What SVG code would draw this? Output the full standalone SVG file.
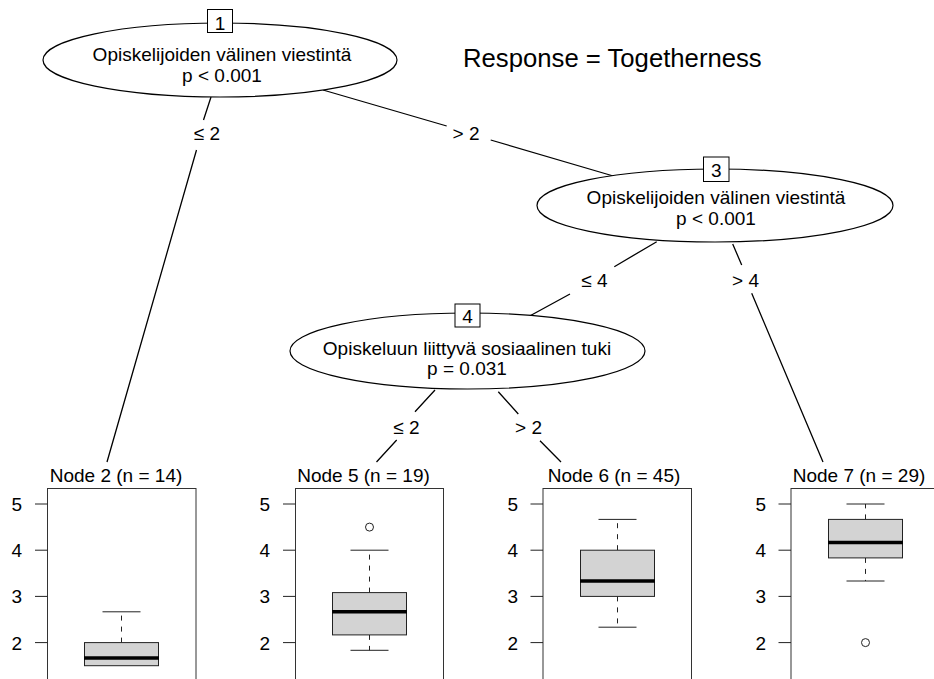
<svg xmlns="http://www.w3.org/2000/svg" width="934" height="679" viewBox="0 0 934 679">
  <style>
    text { font-family: "Liberation Sans", Arial, sans-serif; fill: #000; }
    .lbl { font-size: 19px; text-anchor: middle; }
    .tick { font-size: 19px; text-anchor: end; }
    .title { font-size: 25.7px; }
    .split { fill: #fff; stroke: #000; stroke-width: 1.2; }
    .idbox { fill: #fff; stroke: #000; stroke-width: 1; }
    .edge { fill: none; stroke: #000; stroke-width: 1.3; }
    .panel { fill: #fff; stroke: #333; stroke-width: 1; }
    .axis { stroke: #222; stroke-width: 1; fill: none; }
    .box { fill: #d3d3d3; stroke: #222; stroke-width: 1; }
    .med { stroke: #000; stroke-width: 3.5; }
    .whisk { stroke: #222; stroke-width: 1; stroke-dasharray: 5 6; fill: none; }
    .cap { stroke: #222; stroke-width: 1; }
    .out { fill: none; stroke: #222; stroke-width: 1; }
  </style>

  <!-- background -->
  <rect x="0" y="0" width="934" height="679" fill="#fff"/>

  <text class="title" x="463" y="67">Response = Togetherness</text>

  <!-- edges between nodes, broken around the split labels -->
  <g id="connectors">
    <path class="edge" d="M211,97 L203.5,120 M196.5,150 L107,462"/>
    <path class="edge" d="M323,90 L446.7,126 M490.7,140 L613.3,176"/>
    <path class="edge" d="M656.7,241.7 L614.3,266.7 M570,294 L528.3,316.7"/>
    <path class="edge" d="M732.7,244 L741.7,265 M751.7,293.3 L823,462"/>
    <path class="edge" d="M435,390 L415,411.7 M396.7,440 L376.5,462"/>
    <path class="edge" d="M498.3,391.7 L518.3,414 M540,440.7 L561,462"/>
    <text class="lbl" x="207" y="140">≤ 2</text>
    <text class="lbl" x="466" y="140">&gt; 2</text>
    <text class="lbl" x="594.5" y="287">≤ 4</text>
    <text class="lbl" x="745.5" y="287">&gt; 4</text>
    <text class="lbl" x="406.5" y="434">≤ 2</text>
    <text class="lbl" x="528.5" y="434">&gt; 2</text>
  </g>

  <!-- inner split nodes -->
  <g id="node1">
    <ellipse class="split" cx="220" cy="60" rx="177" ry="37"/>
    <text class="lbl" x="222" y="61">Opiskelijoiden välinen viestintä</text>
    <text class="lbl" x="222" y="82">p &lt; 0.001</text>
    <rect class="idbox" x="207.5" y="9.5" width="25" height="23"/>
    <text class="lbl" x="220" y="30">1</text>
  </g>

  <g id="node3">
    <ellipse class="split" cx="715" cy="205.5" rx="178" ry="36.5"/>
    <text class="lbl" x="716" y="204">Opiskelijoiden välinen viestintä</text>
    <text class="lbl" x="716" y="225">p &lt; 0.001</text>
    <rect class="idbox" x="703.5" y="157" width="25.5" height="24.5"/>
    <text class="lbl" x="716.3" y="177">3</text>
  </g>

  <g id="node4">
    <ellipse class="split" cx="467.5" cy="351" rx="177.5" ry="38"/>
    <text class="lbl" x="467" y="355">Opiskeluun liittyvä sosiaalinen tuki</text>
    <text class="lbl" x="467" y="375">p = 0.031</text>
    <rect class="idbox" x="455" y="304" width="25" height="23"/>
    <text class="lbl" x="467.5" y="323">4</text>
  </g>

  <!-- terminal nodes: boxplots on the scale y = 504 + (5 - v) * 46.2 -->
  <g id="node2">
    <text class="lbl" x="116" y="482">Node 2 (n = 14)</text>
    <rect class="panel" x="47.5" y="488.5" width="148.5" height="200"/>
    <path class="axis" d="M35,504 H47.5 M35,550.2 H47.5 M35,596.4 H47.5 M35,642.6 H47.5"/>
    <text class="tick" x="22" y="511">5</text>
    <text class="tick" x="22" y="557">4</text>
    <text class="tick" x="22" y="603">3</text>
    <text class="tick" x="22" y="649.5">2</text>
    <line class="whisk" x1="121.5" y1="642.6" x2="121.5" y2="611.8"/>
    <line class="cap" x1="102.5" y1="611.8" x2="140.5" y2="611.8"/>
    <rect class="box" x="84.5" y="642.6" width="74" height="23.1"/>
    <line class="med" x1="84" y1="658" x2="159" y2="658"/>
  </g>

  <g id="node5">
    <text class="lbl" x="363.5" y="482">Node 5 (n = 19)</text>
    <rect class="panel" x="295.5" y="488.5" width="148" height="200"/>
    <path class="axis" d="M283,504 H295.5 M283,550.2 H295.5 M283,596.4 H295.5 M283,642.6 H295.5"/>
    <text class="tick" x="270" y="511">5</text>
    <text class="tick" x="270" y="557">4</text>
    <text class="tick" x="270" y="603">3</text>
    <text class="tick" x="270" y="649.5">2</text>
    <line class="whisk" x1="369.5" y1="592.6" x2="369.5" y2="550.2"/>
    <line class="whisk" x1="369.5" y1="634.9" x2="369.5" y2="650.3"/>
    <line class="cap" x1="350.5" y1="550.2" x2="388.5" y2="550.2"/>
    <line class="cap" x1="350.5" y1="650.3" x2="388.5" y2="650.3"/>
    <rect class="box" x="332.5" y="592.6" width="74" height="42.3"/>
    <line class="med" x1="332" y1="611.8" x2="407" y2="611.8"/>
    <circle class="out" cx="369.5" cy="527.1" r="4"/>
  </g>

  <g id="node6">
    <text class="lbl" x="614" y="482">Node 6 (n = 45)</text>
    <rect class="panel" x="543" y="488.5" width="148.5" height="200"/>
    <path class="axis" d="M530.5,504 H543 M530.5,550.2 H543 M530.5,596.4 H543 M530.5,642.6 H543"/>
    <text class="tick" x="518" y="511">5</text>
    <text class="tick" x="518" y="557">4</text>
    <text class="tick" x="518" y="603">3</text>
    <text class="tick" x="518" y="649.5">2</text>
    <line class="whisk" x1="617.5" y1="550.2" x2="617.5" y2="519.4"/>
    <line class="whisk" x1="617.5" y1="596.4" x2="617.5" y2="627.2"/>
    <line class="cap" x1="598.5" y1="519.4" x2="636.5" y2="519.4"/>
    <line class="cap" x1="598.5" y1="627.2" x2="636.5" y2="627.2"/>
    <rect class="box" x="580.5" y="550.2" width="74" height="46.2"/>
    <line class="med" x1="580" y1="581" x2="655" y2="581"/>
  </g>

  <g id="node7">
    <text class="lbl" x="859" y="482">Node 7 (n = 29)</text>
    <rect class="panel" x="791" y="488.5" width="148.5" height="200"/>
    <path class="axis" d="M778.5,504 H791 M778.5,550.2 H791 M778.5,596.4 H791 M778.5,642.6 H791"/>
    <text class="tick" x="766" y="511">5</text>
    <text class="tick" x="766" y="557">4</text>
    <text class="tick" x="766" y="603">3</text>
    <text class="tick" x="766" y="649.5">2</text>
    <line class="whisk" x1="865.5" y1="519.4" x2="865.5" y2="504"/>
    <line class="whisk" x1="865.5" y1="557.9" x2="865.5" y2="581"/>
    <line class="cap" x1="846.5" y1="504" x2="884.5" y2="504"/>
    <line class="cap" x1="846.5" y1="581" x2="884.5" y2="581"/>
    <rect class="box" x="828.5" y="519.4" width="74" height="38.5"/>
    <line class="med" x1="828" y1="542.5" x2="903" y2="542.5"/>
    <circle class="out" cx="865.5" cy="642.6" r="4"/>
  </g>
</svg>
